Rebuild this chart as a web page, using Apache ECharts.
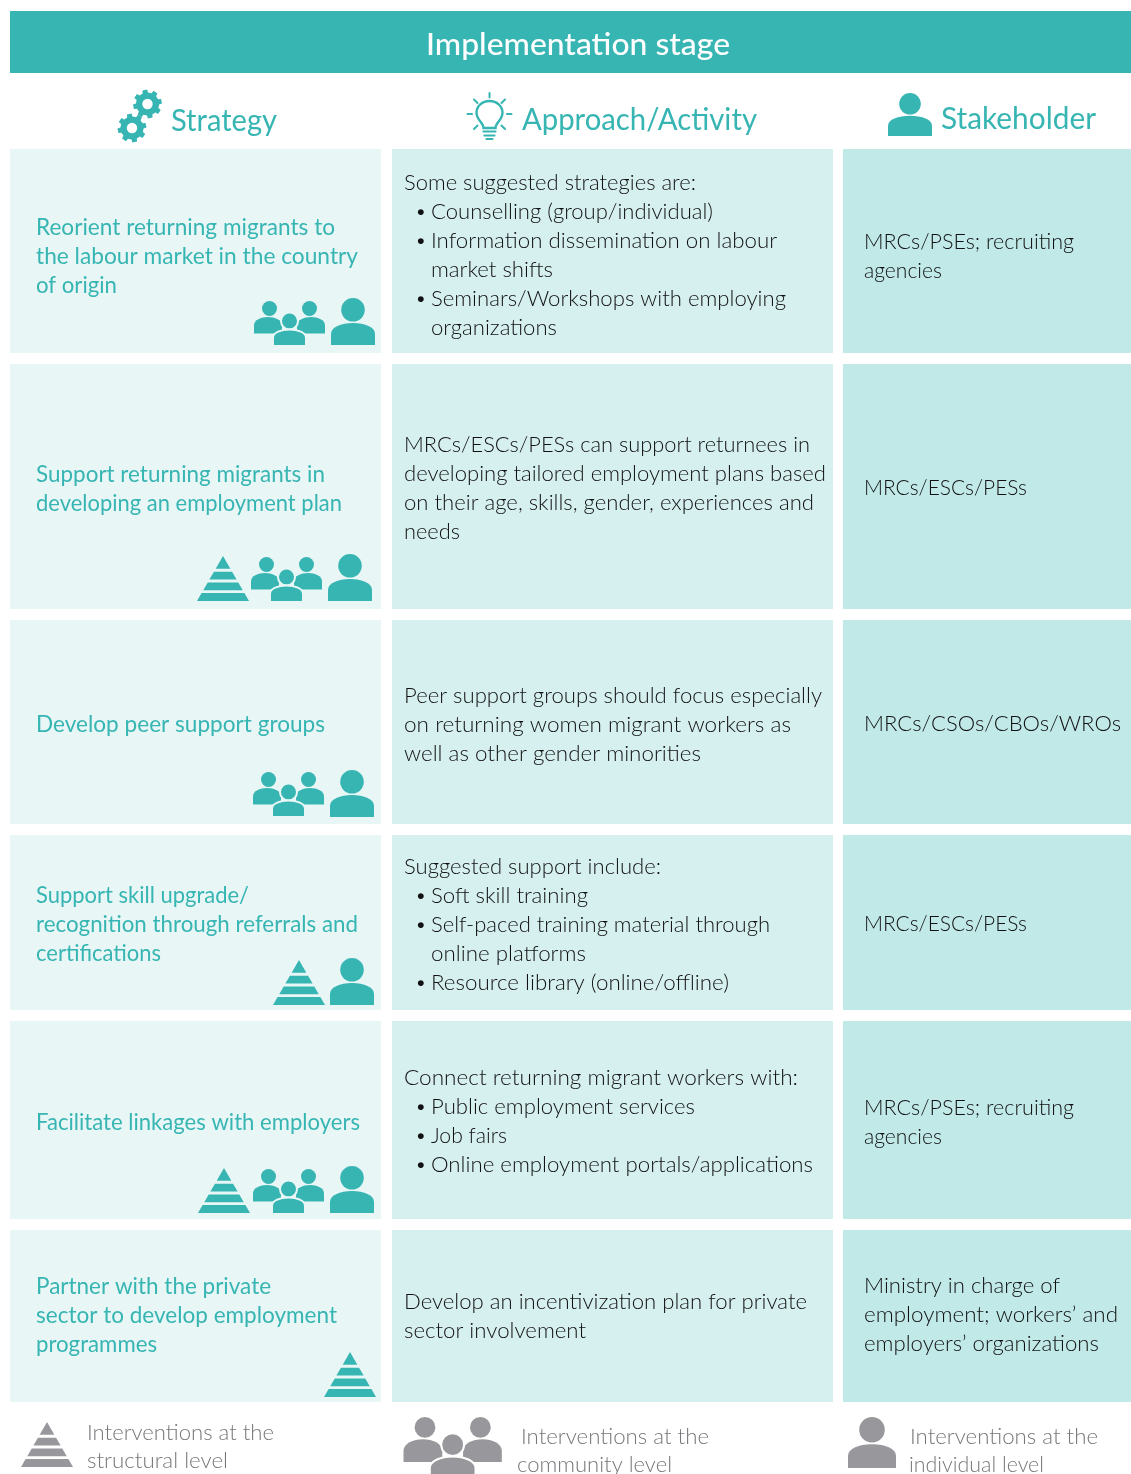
<!DOCTYPE html>
<html><head><meta charset="utf-8">
<style>html,body{margin:0;padding:0;background:#fff}#c{width:1131px;height:1474px}</style>
<script src="https://cdn.jsdelivr.net/npm/echarts@6/dist/echarts.min.js"></script>
</head><body><div id="c"></div>
<script>
// ---- content ----
const title = 'Implementation stage';
const columnHeads = ['Strategy', 'Approach/Activity', 'Stakeholder'];
const strategies = [
  ['Reorient returning migrants to', 'the labour market in the country', 'of origin'],
  ['Support returning migrants in', 'developing an employment plan'],
  ['Develop peer support groups'],
  ['Support skill upgrade/', 'recognition through referrals and', 'certifications'],
  ['Facilitate linkages with employers'],
  ['Partner with the private', 'sector to develop employment', 'programmes']
];
const approaches = [
  ['Some suggested strategies are:', '• Counselling (group/individual)', '• Information dissemination on labour', '> market shifts', '• Seminars/Workshops with employing', '> organizations'],
  ['MRCs/ESCs/PESs can support returnees in', 'developing tailored employment plans based', 'on their age, skills, gender, experiences and', 'needs'],
  ['Peer support groups should focus especially', 'on returning women migrant workers as', 'well as other gender minorities'],
  ['Suggested support include:', '• Soft skill training', '• Self-paced training material through', '> online platforms', '• Resource library (online/offline)'],
  ['Connect returning migrant workers with:', '• Public employment services', '• Job fairs', '• Online employment portals/applications'],
  ['Develop an incentivization plan for private', 'sector involvement']
];
const stakeholders = [
  ['MRCs/PSEs; recruiting', 'agencies'],
  ['MRCs/ESCs/PESs'],
  ['MRCs/CSOs/CBOs/WROs'],
  ['MRCs/ESCs/PESs'],
  ['MRCs/PSEs; recruiting', 'agencies'],
  ['Ministry in charge of', 'employment; workers’ and', 'employers’ organizations']
];
const rowLevels = [
  ['community', 'individual'],
  ['structural', 'community', 'individual'],
  ['community', 'individual'],
  ['structural', 'individual'],
  ['structural', 'community', 'individual'],
  ['structural']
];
const legendLines = [
  ['Interventions at the', 'structural level'],
  ['Interventions at the', 'community level'],
  ['Interventions at the', 'individual level']
];

// ---- layout ----
const colX = [[10, 381], [392, 833], [843, 1131]];
const rowY = [[149, 353], [364, 609], [620, 824], [835, 1010], [1021, 1219], [1230, 1402]];
const colFill = ['#e8f7f6', '#d6f0ef', '#c1e9e7'];
const TEAL = '#36b5b3', GREY = '#98989c', INK = '#111113', LEG = '#77777b';
const FONT = 'Lato', LH = 29, SZ = 22.2, DY = 0.4;
const firstY = [[227, 182, 241], [474, 444.7, 487], [724, 695, 723], [895, 866, 923], [1122, 1077, 1107], [1286, 1301, 1285]];
// right-hand end of each text line, so the lines keep the reference's set width
const ends1 = [[335, 358, 117], [325, 342], [325], [249, 358, 161], [360], [271, 337, 157]];
const ends2 = [[696, 713, 777, 553, 786, 557], [810, 826, 814, 460], [822, 791, 701], [661, 588, 770, 586, 729], [798, 695, 507, 813], [807, 586]];
const ends3 = [[1074, 942], [1027], [1121], [1027], [1074, 942], [1060, 1118, 1099]];
const iconBoxes = {
  community: [[254, 301], [251, 557], [253, 772], null, [253, 1169], null],
  individual: [[331, 298], [328, 554], [330, 770], [330, 958], [330, 1166], null],
  structural: [null, [197, 556], null, [273, 960], [198, 1168], [324, 1352]]
};

const mctx = document.createElement('canvas').getContext('2d');
function textEl(api, x, y, s, o) {
  const p = api.coord([x, y + DY]);
  const font = (o.weight || 300) + ' ' + o.size + 'px ' + FONT;
  let sx = 1;
  if (o.end) { mctx.font = font; sx = (o.end - x) / mctx.measureText(s).width; }
  return { type: 'text', x: p[0], y: p[1], scaleX: sx, silent: true,
    style: { text: s, fill: o.fill, font,
      textAlign: o.align || 'left', textVerticalAlign: 'middle', align: o.align || 'left', verticalAlign: 'middle' } };
}
function pathEl(api, x, y, w, h, d, fill, stroke, lw) {
  const p = api.coord([x, y]);
  const st = { fill };
  if (stroke) { st.stroke = stroke; st.lineWidth = lw; }
  return { type: 'path', shape: { pathData: d, x: p[0], y: p[1], width: w, height: h, layout: 'cover' }, style: st, silent: true };
}
function circ(api, cx, cy, r, fill, stroke, lw) {
  const p = api.coord([cx, cy]);
  const st = { fill };
  if (stroke) { st.stroke = stroke; st.lineWidth = lw; }
  return { type: 'circle', shape: { cx: p[0], cy: p[1], r }, style: st, silent: true };
}
function person(api, x, y, w, h, fill) {
  const k = h / 47, rr = 11.8 * k;
  const bodyTop = 25 * k;
  return [
    circ(api, x + w / 2, y + rr, rr, fill),
    pathEl(api, x, y + bodyTop, w, h - bodyTop, 'M0,22 V11 C0,4 10,0 22,0 C34,0 44,4 44,11 V22 Z', fill)
  ];
}
function group(api, x, y, k, fill, bg) {
  const w = 28 * k, h = 16.5 * k, body = 'M0,16 V8 C0,3 7,0 14,0 C21,0 28,3 28,8 V16 Z';
  return [
    circ(api, x + 15.5 * k, y + 7.5 * k, 7.5 * k, fill),
    circ(api, x + 55.5 * k, y + 7.5 * k, 7.5 * k, fill),
    pathEl(api, x, y + 16 * k, w, h, body, fill),
    pathEl(api, x + 43 * k, y + 16 * k, w, h, body, fill),
    circ(api, x + 35.5 * k, y + 20 * k, 7.5 * k + 1, fill, bg, 2),
    pathEl(api, x + 19 * k, y + 28.5 * k, 33 * k, 16.5 * k, body, fill, bg, 2)
  ];
}
function pyramid(api, x, y, k, fill) {
  const tiers = [[0, 12.7], [15.7, 23.6], [26.4, 34.2], [37, 45]];
  return tiers.map(t => {
    const a = 26 * t[0] / 45, b = 26 * t[1] / 45;
    const pts = [[26 - a, t[0]], [26 + a, t[0]], [26 + b, t[1]], [26 - b, t[1]]]
      .map(q => api.coord([x + q[0] * k, y + q[1] * k]));
    return { type: 'polygon', shape: { points: pts }, style: { fill }, silent: true };
  });
}
function gear(api, cx, cy, R) {
  const teeth = 8, pts = [];
  for (let i = 0; i < teeth; i++) {
    const a = (i + 0.5) / teeth * Math.PI * 2 + 0.2, d = Math.PI / teeth;
    [[-0.6, 0.8], [-0.42, 1], [0.42, 1], [0.6, 0.8]].forEach(q => {
      const an = a + q[0] * d;
      pts.push(api.coord([cx + Math.cos(an) * R * q[1], cy + Math.sin(an) * R * q[1]]));
    });
  }
  return [{ type: 'polygon', shape: { points: pts }, style: { fill: TEAL }, silent: true },
    circ(api, cx, cy, R * 0.36, '#fff')];
}
function bulb(api) {
  const cx = 489.5, out = [];
  const line = (x1, y1, x2, y2, lw) => {
    const a = api.coord([x1, y1]), b = api.coord([x2, y2]);
    out.push({ type: 'line', shape: { x1: a[0], y1: a[1], x2: b[0], y2: b[1] }, style: { stroke: TEAL, lineWidth: lw, lineCap: 'round' }, silent: true });
  };
  const p = api.coord([476.5, 101]);
  out.push({ type: 'path', shape: { pathData: 'M-6,15 C-6,9 -13,6 -13,-2 A13,13 0 1 1 13,-2 C13,6 6,9 6,15 Z', x: p[0], y: p[1], width: 26, height: 27, layout: 'cover' },
    style: { fill: 'none', stroke: TEAL, lineWidth: 2.4 }, silent: true });
  line(cx - 6, 131.5, cx + 6, 131.5, 2.2);
  line(cx - 5, 135.5, cx + 5, 135.5, 2.2);
  line(cx - 3, 139, cx + 3, 139, 2.2);
  line(cx, 93, cx, 97.5, 2);
  line(cx - 22, 114, cx - 17.5, 114, 2);
  line(cx + 17.5, 114, cx + 22, 114, 2);
  line(cx - 15.5, 99.5, cx - 12, 103, 2);
  line(cx + 15.5, 99.5, cx + 12, 103, 2);
  line(cx - 15.5, 129, cx - 12, 125.5, 2);
  line(cx + 15.5, 129, cx + 12, 125.5, 2);
  return out;
}

function renderAll(params, api) {
  if (params.dataIndex > 0) return;
  const ch = [];
  const h0 = api.coord([10, 11]), h1 = api.coord([1131, 73]);
  ch.push({ type: 'rect', shape: { x: h0[0], y: h0[1], width: h1[0] - h0[0], height: h1[1] - h0[1] }, style: { fill: TEAL }, silent: true });
  ch.push(textEl(api, 426, 44, title, { fill: '#fff', size: 31.5, weight: 500, end: 730 }));
  const headPos = [[171, 121, 277], [522, 120, 757], [941, 119, 1096]];
  columnHeads.forEach((t, i) => ch.push(textEl(api, headPos[i][0], headPos[i][1], t, { fill: TEAL, size: 31, weight: 400, end: headPos[i][2] })));
  ch.push(...gear(api, 147.5, 104, 14.5), ...gear(api, 132, 128, 14.5));
  ch.push(...bulb(api));
  ch.push(...person(api, 888, 93, 44, 43, TEAL));
  rowY.forEach((ry, r) => {
    colX.forEach((cx, c) => {
      const a = api.coord([cx[0], ry[0]]), b = api.coord([cx[1], ry[1]]);
      ch.push({ type: 'rect', shape: { x: a[0], y: a[1], width: b[0] - a[0], height: b[1] - a[1] }, style: { fill: colFill[c] }, silent: true });
    });
    strategies[r].forEach((s, i) => ch.push(textEl(api, 36, firstY[r][0] + i * LH, s, { fill: TEAL, size: SZ, weight: 400, end: ends1[r][i] })));
    approaches[r].forEach((s, i) => {
      const y = firstY[r][1] + i * LH, end = ends2[r][i];
      if (s.startsWith('• ')) {
        ch.push(textEl(api, 415, y, '•', { fill: INK, size: 20 }));
        ch.push(textEl(api, 431, y, s.slice(2), { fill: INK, size: SZ, end }));
      } else if (s.startsWith('> ')) {
        ch.push(textEl(api, 431, y, s.slice(2), { fill: INK, size: SZ, end }));
      } else ch.push(textEl(api, 404, y, s, { fill: INK, size: SZ, end }));
    });
    stakeholders[r].forEach((s, i) => ch.push(textEl(api, 864, firstY[r][2] + i * LH, s, { fill: INK, size: SZ, end: ends3[r][i] })));
    rowLevels[r].forEach(l => {
      const b = iconBoxes[l][r];
      if (l === 'individual') ch.push(...person(api, b[0], b[1], 44, 47, TEAL));
      if (l === 'community') ch.push(...group(api, b[0], b[1], 1, TEAL, colFill[0]));
      if (l === 'structural') ch.push(...pyramid(api, b[0], b[1], 1, TEAL));
    });
  });
  const legPos = [[[87, 1432, 274], [87, 1460, 228]], [[521, 1436, 709], [517, 1464, 672]], [[910, 1436, 1098], [909, 1464, 1044]]];
  legendLines.forEach((ls, i) => ls.forEach((s, j) => ch.push(textEl(api, legPos[i][j][0], legPos[i][j][1], s, { fill: LEG, size: SZ, end: legPos[i][j][2] }))));
  ch.push(...pyramid(api, 21, 1422, 1, GREY));
  ch.push(...group(api, 403.5, 1417, 1.385, GREY, '#fff'));
  ch.push(...person(api, 848, 1417, 48, 51, GREY));
  return { type: 'group', children: ch };
}

const chart = echarts.init(document.getElementById('c'), null, { renderer: 'canvas' });
chart.setOption({
  animation: false,
  backgroundColor: '#fff',
  grid: { left: 0, right: 0, top: 0, bottom: 0 },
  xAxis: { type: 'value', min: 0, max: 1131, show: false },
  yAxis: { type: 'value', min: 0, max: 1474, inverse: true, show: false },
  series: [{ type: 'custom', coordinateSystem: 'cartesian2d', clip: false, silent: true, renderItem: renderAll, data: [[0, 0]] }]
});
</script></body></html>
